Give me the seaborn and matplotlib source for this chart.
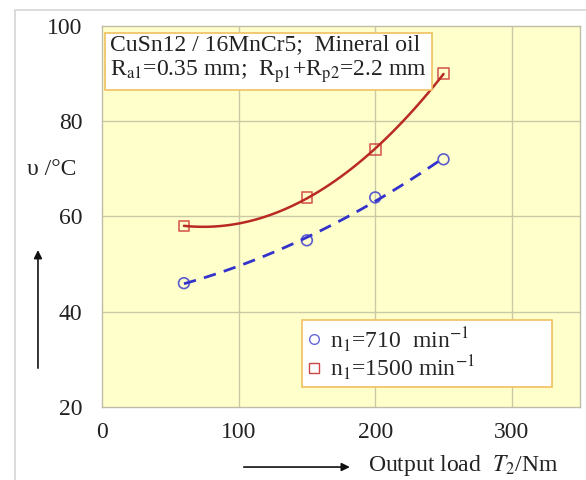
import matplotlib
matplotlib.use("Agg")
import matplotlib.pyplot as plt
from matplotlib.lines import Line2D
from matplotlib.patches import Rectangle
import seaborn as sns
import pandas as pd

# ---- data ----
load_nm = [60, 150, 200, 250]
temp_710 = [46, 55, 64, 72]
temp_1500 = [58, 64, 74, 90]
x_ticks = [0, 100, 200, 300]
y_ticks = [20, 40, 60, 80, 100]
label_710 = "n$_1$=710  min$^{-1}$"
label_1500 = "n$_1$=1500 min$^{-1}$"
info_text = "CuSn12 / 16MnCr5;  Mineral oil\nR$_{\\rm a1}$=0.35 mm;  R$_{\\rm p1}$+R$_{\\rm p2}$=2.2 mm"

sns.set_style("white")
plt.rcParams["font.family"] = ["Liberation Serif", "DejaVu Serif"]
plt.rcParams["mathtext.fontset"] = "stix"

FS = 17

df = pd.DataFrame({"load": load_nm, "t710": temp_710, "t1500": temp_1500})

fig = plt.figure(figsize=(5.86, 4.80), dpi=100)
ax = fig.add_axes([0.174, 0.152, 0.816, 0.794])
ax.set_facecolor("#FFFFCC")

grid_c = "#C9C9A6"
for xv in x_ticks[1:]:
    ax.axvline(xv, color=grid_c, lw=1.0, zorder=0)
for yv in y_ticks[1:-1]:
    ax.axhline(yv, color=grid_c, lw=1.0, zorder=0)

blue = "#3333CC"
red = "#B82A22"

sns.regplot(data=df, x="load", y="t710", order=2, ci=None, ax=ax,
            marker="o",
            scatter_kws={"s": 60, "facecolors": "none", "edgecolors": blue, "linewidths": 1.2},
            line_kws={"color": blue, "lw": 2.0, "ls": (0, (4.5, 3))})
sns.regplot(data=df, x="load", y="t1500", order=2, ci=None, ax=ax,
            marker="s",
            scatter_kws={"s": 60, "facecolors": "none", "edgecolors": "#CC3333", "linewidths": 1.2},
            line_kws={"color": red, "lw": 1.8})

ax.set_xlim(0, 350)
ax.set_ylim(20, 100)
ax.set_xticks(x_ticks)
ax.set_yticks(y_ticks)
ax.set_xlabel("")
ax.set_ylabel("")
ax.tick_params(axis="both", length=0, labelsize=FS, colors="#222222")
ax.tick_params(axis="x", pad=11)
ax.tick_params(axis="y", pad=14)
for s in ax.spines.values():
    s.set_color("#BDBDA8")
    s.set_linewidth(1.0)

ax.text(0.017, 0.978, info_text, transform=ax.transAxes, va="top", ha="left",
        fontsize=FS, color="#222222", linespacing=1.15,
        bbox=dict(boxstyle="square,pad=0.22", facecolor="white", edgecolor="#F0C060", lw=1.2))

handles = [
    Line2D([], [], ls="none", marker="o", markersize=7, markerfacecolor="none",
           markeredgecolor="#6666DD", markeredgewidth=1.0),
    Line2D([], [], ls="none", marker="s", markersize=7, markerfacecolor="none",
           markeredgecolor="#CC4444", markeredgewidth=1.0),
]
leg = ax.legend(handles, [label_710, label_1500], loc="upper left",
                bbox_to_anchor=(0.418, 0.06, 0.523, 0.168), mode="expand",
                borderaxespad=0, fontsize=FS,
                frameon=True, fancybox=False, handlelength=0.6, handletextpad=0.4,
                labelspacing=0.0, borderpad=0.2)
leg.get_frame().set_edgecolor("#F0C060")
leg.get_frame().set_facecolor("white")
leg.get_frame().set_alpha(1.0)
leg.get_frame().set_linewidth(1.2)

fig.text(0.089, 0.646, "υ /°C", ha="center", va="center", fontsize=FS, color="#222222")
fig.text(0.628, 0.031, "Output load  $T_2$/Nm", ha="left", va="center", fontsize=FS, color="#222222")

fig.add_artist(plt.Annotation("", xy=(0.0648, 0.479), xytext=(0.0648, 0.233),
                              xycoords="figure fraction", textcoords="figure fraction",
                              arrowprops=dict(arrowstyle="-|>", color="#111111", lw=1.2,
                                              mutation_scale=12, shrinkA=0, shrinkB=0)))
fig.add_artist(plt.Annotation("", xy=(0.597, 0.027), xytext=(0.416, 0.027),
                              xycoords="figure fraction", textcoords="figure fraction",
                              arrowprops=dict(arrowstyle="-|>", color="#111111", lw=1.2,
                                              mutation_scale=12, shrinkA=0, shrinkB=0)))

fig.add_artist(Rectangle((15 / 586, -0.1), 1.2, (470 / 480) + 0.1, transform=fig.transFigure,
                         fill=False, edgecolor="#D6D6D6", lw=1.2))

fig.savefig("out.png", dpi=100)
